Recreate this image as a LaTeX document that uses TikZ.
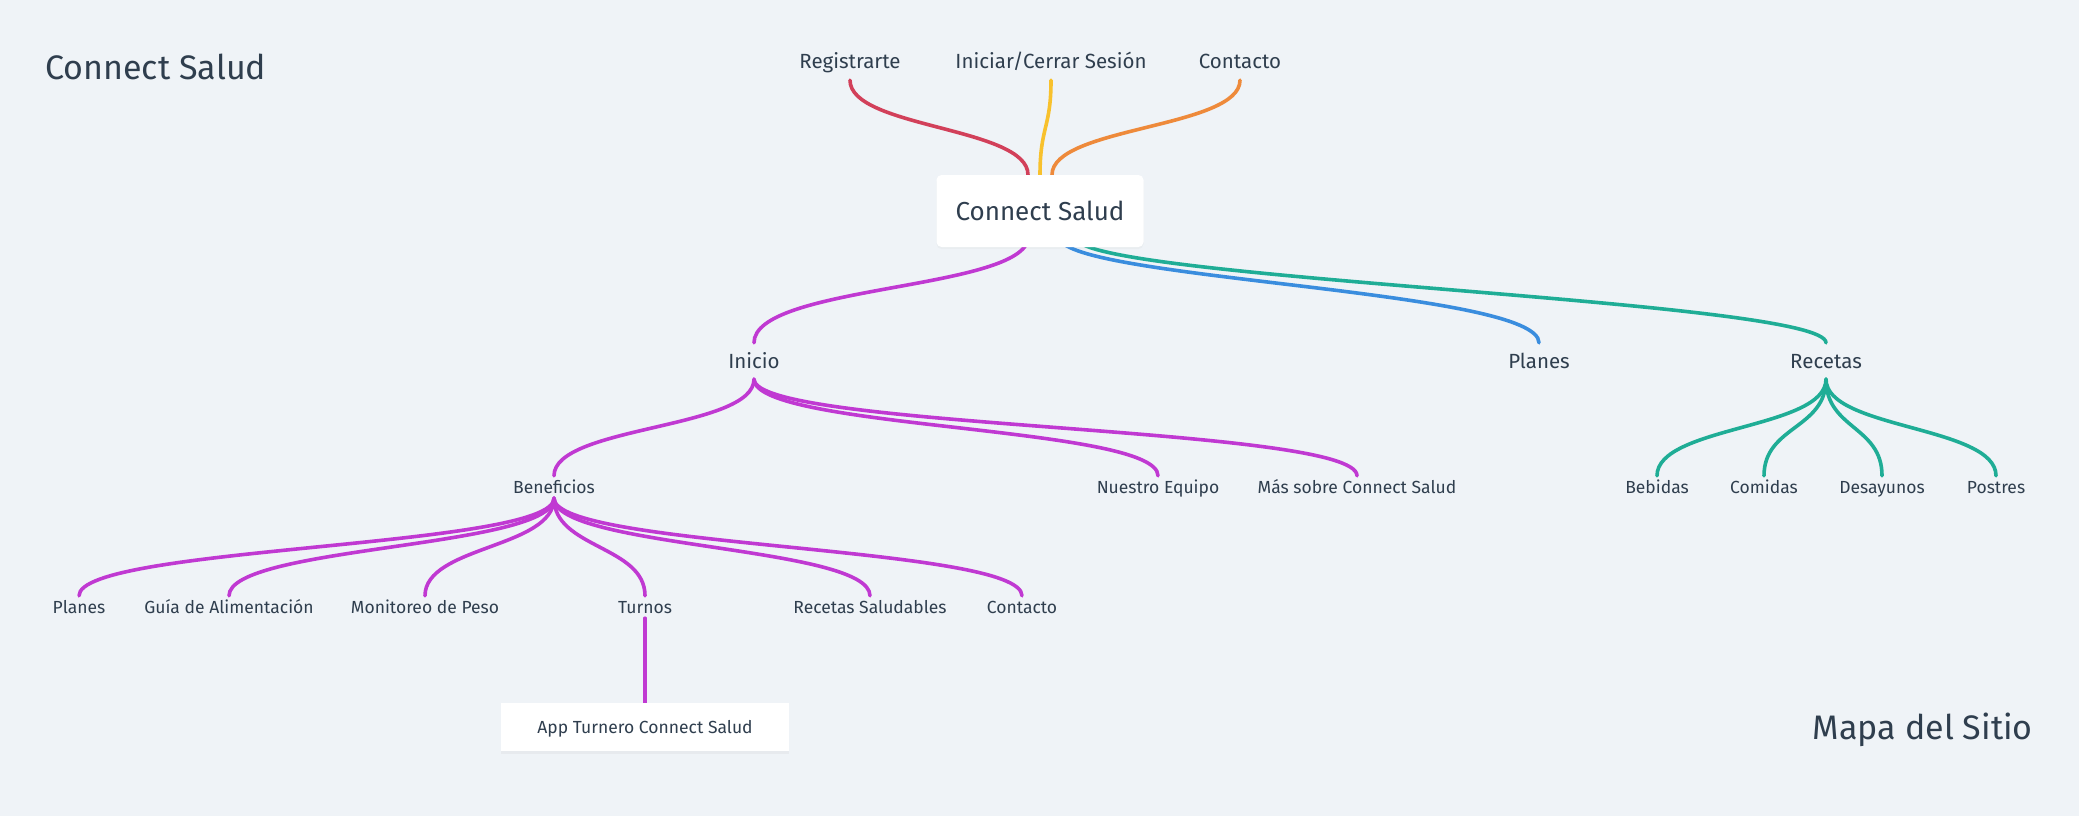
\documentclass[tikz,border=0pt]{standalone}
\usepackage{fontspec}
\setmainfont{Fira Sans}
\usetikzlibrary{shadows}
\definecolor{bg}{HTML}{EFF3F7}
\definecolor{ink}{HTML}{2F3E4E}
\definecolor{cred}{HTML}{D2405A}
\definecolor{cyellow}{HTML}{F8C12D}
\definecolor{corange}{HTML}{EE8A3B}
\definecolor{cmag}{HTML}{C039D2}
\definecolor{cblue}{HTML}{3A8DDE}
\definecolor{cteal}{HTML}{1FAD96}
\pgfdeclarelayer{back}
\pgfdeclarelayer{lines}
\pgfsetlayers{back,lines,main}
\begin{document}
\begin{tikzpicture}[x=1pt,y=-1pt,
  every node/.style={text=ink, inner sep=0pt},
  titletext/.style={font=\fontsize{34}{40}\selectfont, text height=24pt, text depth=0pt},
  rootbox/.style={fill=white, rounded corners=5pt, minimum width=207pt, minimum height=72pt,
    font=\fontsize{26}{30}\selectfont, text height=18pt, text depth=0pt,
    drop shadow={opacity=0.05, shadow xshift=0pt, shadow yshift=-2pt}},
  appbox/.style={fill=white, minimum width=288pt, minimum height=48pt,
    font=\fontsize{17.5}{21}\selectfont, text height=12pt, text depth=0pt,
    drop shadow={opacity=0.07, shadow xshift=0pt, shadow yshift=-3pt}},
  lvltwo/.style={font=\fontsize{20.5}{24}\selectfont, text height=14pt, text depth=0pt, minimum height=36pt},
  lvlthree/.style={font=\fontsize{17.5}{21}\selectfont, text height=12pt, text depth=0pt, minimum height=22pt},
  link/.style={line width=3.6pt, line cap=round},
]
\begin{pgfonlayer}{back}
  \fill[bg] (0,0) rectangle (2079,816);
\end{pgfonlayer}
\useasboundingbox (0,0) rectangle (2079,816);

\node[titletext, anchor=west] (title) at (45,67) {Connect Salud};
\node[titletext, anchor=east] (mapa) at (2033,727) {Mapa del Sitio};

\node[rootbox] (root) at (1040,211) {Connect Salud};
\node[lvltwo] (reg) at (850,62) {Registrarte};
\node[lvltwo] (ses) at (1051,62) {Iniciar/Cerrar Sesión};
\node[lvltwo] (con) at (1240,62) {Contacto};
\node[lvltwo] (ini) at (754,361) {Inicio};
\node[lvltwo] (pla) at (1539,361) {Planes};
\node[lvltwo] (rec) at (1826,361) {Recetas};

\node[lvlthree] (ben) at (554,487) {Beneficios};
\node[lvlthree] (equ) at (1158,487) {Nuestro Equipo};
\node[lvlthree] (mas) at (1357,487) {Más sobre Connect Salud};
\node[lvlthree] (beb) at (1657,487) {Bebidas};
\node[lvlthree] (com) at (1764,487) {Comidas};
\node[lvlthree] (des) at (1882,487) {Desayunos};
\node[lvlthree] (pos) at (1996,487) {Postres};

\node[lvlthree] (bpla) at (79,607) {Planes};
\node[lvlthree] (gui) at (229,607) {Guía de Alimentación};
\node[lvlthree] (mon) at (425,607) {Monitoreo de Peso};
\node[lvlthree] (tur) at (645,607) {Turnos};
\node[lvlthree] (rsa) at (870,607) {Recetas Saludables};
\node[lvlthree] (bcon) at (1022,607) {Contacto};

\node[appbox] (app) at (645,727) {App Turnero Connect Salud};

\begin{pgfonlayer}{lines}
  \draw[link, cred] (reg.south) .. controls +(0,48) and +(0,-48) .. ([xshift=-12pt]root.north);
  \draw[link, cyellow] (ses.south) .. controls +(0,48) and +(0,-48) .. (root.north);
  \draw[link, corange] (con.south) .. controls +(0,48) and +(0,-48) .. ([xshift=12pt]root.north);

  \draw[link, cmag] ([xshift=-12pt,yshift=7pt]root.south) .. controls +(-13,50) and +(0,-57) .. (ini.north);
  \draw[link, cblue] ([xshift=20pt,yshift=7pt]root.south) .. controls +(25,40) and +(0,-52) .. (pla.north);
  \draw[link, cteal] ([xshift=37pt,yshift=7pt]root.south) .. controls +(28,40) and +(0,-42) .. (rec.north);

  \foreach \c in {ben,equ,mas}
    \draw[link, cmag] (ini.south) .. controls +(0,50) and +(0,-50) .. (\c.north);
  \foreach \c in {beb,com,des,pos}
    \draw[link, cteal] (rec.south) .. controls +(0,50) and +(0,-50) .. (\c.north);
  \foreach \c in {bpla,gui,mon,tur,rsa,bcon}
    \draw[link, cmag] (ben.south) .. controls +(0,50) and +(0,-50) .. (\c.north);
  \draw[link, cmag] (tur.south) -- (app.north);
\end{pgfonlayer}
\end{tikzpicture}
\end{document}
